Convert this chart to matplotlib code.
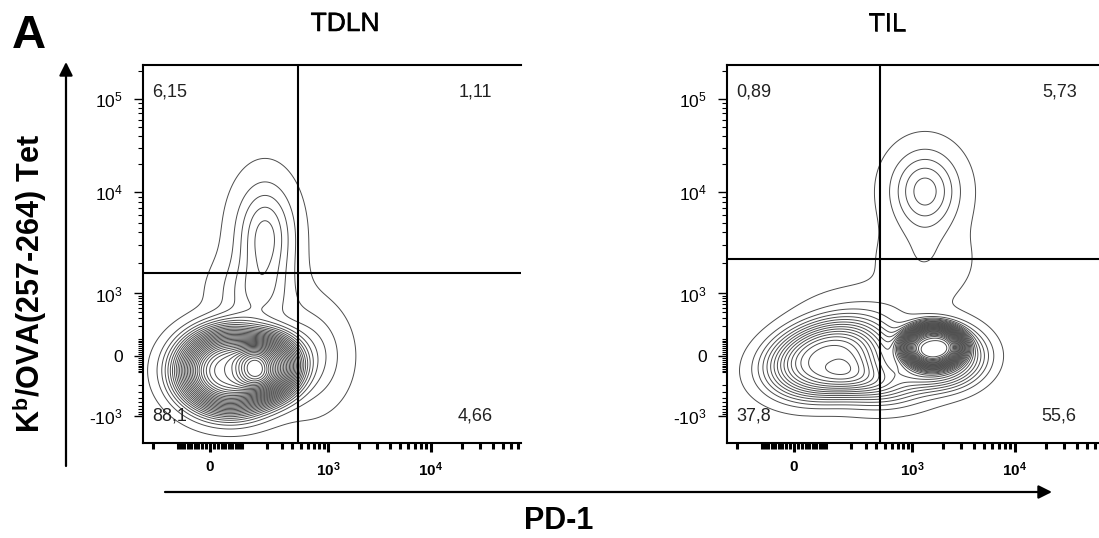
import matplotlib
matplotlib.use('Agg')
import matplotlib.pyplot as plt
import matplotlib.patheffects as pe
import numpy as np

plt.rcParams['font.family'] = ['Liberation Sans', 'DejaVu Sans']
plt.rcParams['mathtext.fontset'] = 'custom'
plt.rcParams['mathtext.rm'] = 'Liberation Sans'
plt.rcParams['mathtext.it'] = 'Liberation Sans:italic'
plt.rcParams['mathtext.bf'] = 'Liberation Sans:bold'

# --- data ---
panels = ['TDLN', 'TIL']

# quadrant percentages: UL, UR, LL, LR
tdln_quadrants = ['6,15', '1,11', '88,1', '4,66']
til_quadrants = ['0,89', '5,73', '37,8', '55,6']

# gate positions (fluorescence units)
tdln_gate = (460, 1600)
til_gate = (440, 2200)

# cell populations: centre PD-1, centre tet, spread x, spread y (display channels),
# relative weight, peak shape (1 = gaussian, >1 = flatter top), tilt in degrees
tdln_x = [53, 232, 190, 141, 555]
tdln_y = [-80, -52, 3700, 886, 0]
tdln_sx = [40, 24, 19, 25, 24]
tdln_sy = [32, 25, 34, 25, 30]
tdln_w = [1.0, 0.45, 0.17, 0.1, 0.12]
tdln_q = [1.5, 1.5, 1, 1, 1]
tdln_tilt = [0, 0, 0, 0, 0]

til_x = [98, 1600, 1830, 428, 329, 1340, 1310]
til_y = [-15, 50, 0, -190, 333, 10250, 2090]
til_sx = [46, 26, 34, 30, 40, 22, 30]
til_sy = [28, 18, 24, 14, 18, 26, 25]
til_w = [0.6, 1.0, 0.45, 0.3, 0.06, 0.2, 0.05]
til_q = [1.5, 2, 1.5, 1, 1, 1, 1]
til_tilt = [12, 0, 0, 0, 0, 0, 0]

# biexponential axis: value -> display channel
anchor_vals = [-1e6, -1e5, -1e4, -1e3, 0, 1e3, 1e4, 1e5, 1e6]
x_anchor_pos = [-427, -324, -221, -118, 0, 118, 221, 324, 427]
y_anchor_pos = [-339, -246, -153, -60, 0, 62.5, 164, 257, 350]

y_major = [-1e3, 0, 1e3, 1e4, 1e5]
y_major_labels = [r'-$10^3$', '0', r'$10^3$', r'$10^4$', r'$10^5$']
x_major = [0, 1e3, 1e4]
x_major_labels = ['0', r'$\mathbf{10^3}$', r'$\mathbf{10^4}$']


def make_scale(pos, w=100.0):
    u = np.arcsinh(np.array(anchor_vals) / w)
    p = np.array(pos, float)

    def fwd(v):
        return np.interp(np.arcsinh(np.asarray(v, float) / w), u, p)

    def inv(q):
        return w * np.sinh(np.interp(np.asarray(q, float), p, u))
    return fwd, inv


xf, xi = make_scale(x_anchor_pos)
yf, yi = make_scale(y_anchor_pos)

minor = []
for d in [10, 100, 1000, 10000, 100000]:
    minor += [k * d for k in range(1, 10) if k * d not in (100, 1000, 10000, 100000)]
minor = np.array(minor)
x_minor = np.concatenate([-minor[minor <= 200], minor])
y_minor = np.concatenate([-minor[minor <= 2000], minor])

xlim_ch = (-67, 311)
ylim_ch = (-87, 291)

fig = plt.figure(figsize=(10.99, 5.38), dpi=100)
axes = [fig.add_axes([0.1301, 0.1766, 0.3439, 0.7026]),
        fig.add_axes([0.6615, 0.1766, 0.3439, 0.7026])]

pops = [(tdln_x, tdln_y, tdln_sx, tdln_sy, tdln_w, tdln_q, tdln_tilt),
        (til_x, til_y, til_sx, til_sy, til_w, til_q, til_tilt)]
gates = [tdln_gate, til_gate]
quads = [tdln_quadrants, til_quadrants]

gx = np.linspace(xlim_ch[0], xlim_ch[1], 500)
gy = np.linspace(ylim_ch[0], ylim_ch[1], 500)
GX, GY = np.meshgrid(gx, gy)

for ax, pop, gate, q in zip(axes, pops, gates, quads):
    ax.set_xscale('function', functions=(xf, xi))
    ax.set_yscale('function', functions=(yf, yi))

    px, py, sx, sy, w, shape, tilt = pop
    Z = np.zeros_like(GX)
    for cx, cy, a, b, wt, k, t in zip(xf(px), yf(py), sx, sy, w, shape, tilt):
        th = np.radians(t)
        dx = (GX - cx) * np.cos(th) + (GY - cy) * np.sin(th)
        dy = -(GX - cx) * np.sin(th) + (GY - cy) * np.cos(th)
        r2 = (dx / a) ** 2 + (dy / b) ** 2
        Z += wt * np.exp(-0.5 * r2 ** k)
    levels = Z.max() * np.arange(0.010, 0.98, 0.028)
    ax.contour(xi(GX), yi(GY), Z, levels=levels, colors='#4d4d4d', linewidths=0.7)

    ax.axvline(gate[0], color='black', lw=1.5)
    ax.axhline(gate[1], color='black', lw=1.5)

    ax.set_xlim(xi(xlim_ch[0]), xi(xlim_ch[1]))
    ax.set_ylim(yi(ylim_ch[0]), yi(ylim_ch[1]))

    ax.set_yticks(y_major, y_major_labels, fontsize=12.5)
    ax.set_yticks(y_minor[(y_minor > ax.get_ylim()[0]) & (y_minor < ax.get_ylim()[1])], minor=True)
    ax.set_xticks(x_major, x_major_labels, fontsize=11, fontweight='bold')
    ax.set_xticks(x_minor[(x_minor > ax.get_xlim()[0]) & (x_minor < ax.get_xlim()[1])], minor=True)
    ax.tick_params(axis='y', which='major', direction='out', length=6.5, width=1, pad=8)
    ax.tick_params(axis='y', which='minor', direction='out', length=3.5, width=0.8)
    ax.tick_params(axis='x', which='major', direction='out', length=6.5, width=2.2, pad=6)
    ax.tick_params(axis='x', which='minor', direction='out', length=4.3, width=2.2)

    ax.spines['right'].set_visible(False)
    for s in ['left', 'top', 'bottom']:
        ax.spines[s].set_linewidth(1.5)

    kw = dict(transform=ax.transAxes, fontsize=13, color='#222222', va='center')
    ax.text(0.024, 0.929, q[0], ha='left', **kw)
    ax.text(0.925, 0.929, q[1], ha='right', **kw)
    ax.text(0.024, 0.071, q[2], ha='left', **kw)
    ax.text(0.925, 0.071, q[3], ha='right', **kw)

heavy = [pe.withStroke(linewidth=0.4, foreground='black')]
fig.text(345 / 1099, 1 - 24 / 538, panels[0], fontsize=19, ha='center', va='center', path_effects=heavy)
fig.text(887 / 1099, 1 - 24 / 538, panels[1], fontsize=19, ha='center', va='center', path_effects=heavy)
fig.text(29 / 1099, 1 - 36 / 538, 'A', fontsize=34, fontweight='bold', ha='center', va='center')
fig.text(30 / 1099, 1 - 284 / 538, r'K$^{\mathbf{b}}$/OVA(257-264) Tet', fontsize=22,
         fontweight='bold', rotation=90, ha='center', va='center')
fig.text(559 / 1099, 1 - 521 / 538, 'PD-1', fontsize=22, fontweight='bold', ha='center', va='center')

arrow = dict(arrowstyle='-|>', lw=1.6, color='black', mutation_scale=20, shrinkA=0, shrinkB=0)
fig.add_artist(matplotlib.patches.FancyArrowPatch((66 / 1099, 1 - 466 / 538), (66 / 1099, 1 - 62 / 538),
                                                  transform=fig.transFigure, **arrow))
fig.add_artist(matplotlib.patches.FancyArrowPatch((165 / 1099, 1 - 492 / 538), (1052 / 1099, 1 - 492 / 538),
                                                  transform=fig.transFigure, **arrow))

fig.savefig('out.png', dpi=100)
